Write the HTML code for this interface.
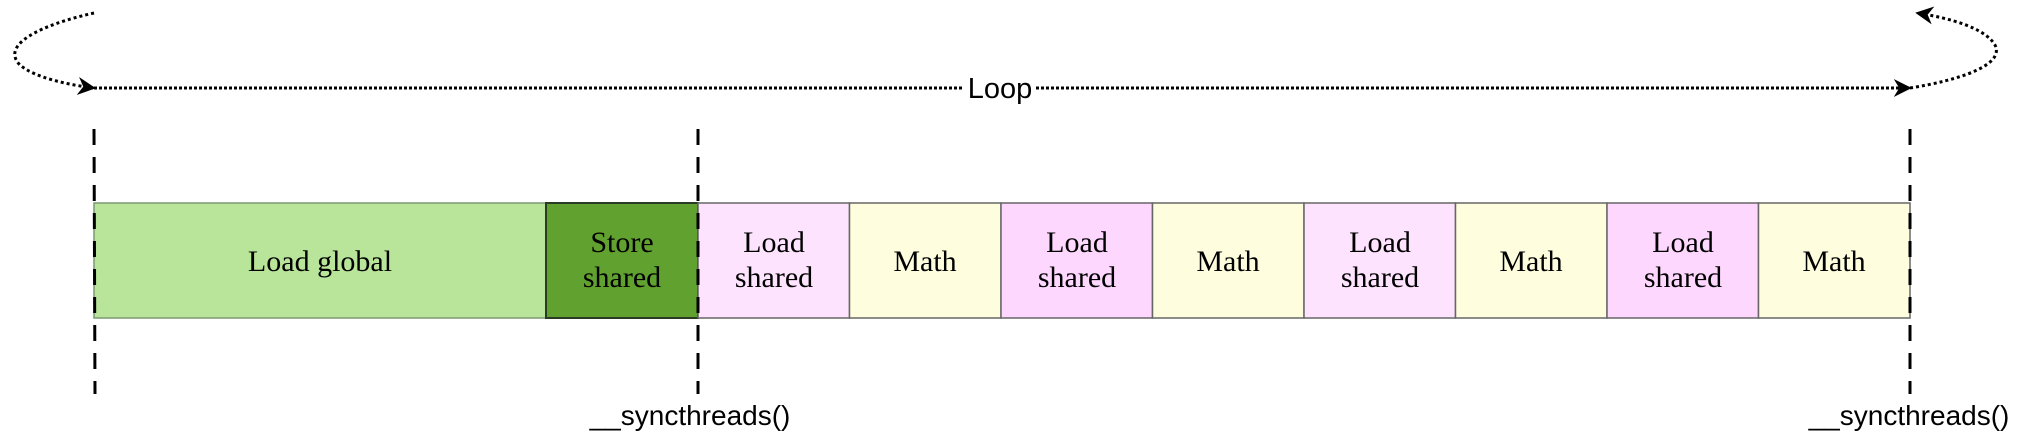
<!DOCTYPE html>
<html><head><meta charset="utf-8"><style>
html,body{margin:0;padding:0;background:#fff;width:2024px;height:442px;overflow:hidden}
</style></head><body>
<svg width="2024" height="442" viewBox="0 0 2024 442" xmlns="http://www.w3.org/2000/svg">
<defs>
<marker id="ah2" viewBox="0 0 10 10" refX="9" refY="5" markerWidth="18" markerHeight="18" orient="auto" markerUnits="userSpaceOnUse">
<path d="M0,0 L10,5 L0,10 L3,5 Z" fill="#000"/></marker>
</defs>
<g>
<path d="M94,13 C40,25 0,45 20,65 C35,78 70,85 94,88" fill="none" stroke="#000" stroke-width="3" stroke-dasharray="3,3" marker-end="url(#ah2)"/>
<line x1="94" y1="88" x2="964" y2="88" stroke="#000" stroke-width="3" stroke-dasharray="3,2"/>
<line x1="1036" y1="88" x2="1910" y2="88" stroke="#000" stroke-width="3" stroke-dasharray="3,2" marker-end="url(#ah2)"/>
<path d="M1910,88 C1960,80 2005,65 1995,45 C1985,28 1950,18 1917,13" fill="none" stroke="#000" stroke-width="3" stroke-dasharray="3,3" marker-end="url(#ah2)"/>
<text x="1000" y="98" font-family="Liberation Sans, sans-serif" font-size="29" text-anchor="middle">Loop</text>
</g>
<g font-family="Liberation Serif, serif" font-size="30" text-anchor="middle">
<g><rect x="94" y="203" width="452" height="115" fill="#b9e59a" stroke="#7a9a70" stroke-width="1.5"/><text x="320" y="271">Load global</text></g>
<g><rect x="546" y="203" width="152" height="115" fill="#60a12f" stroke="#2b3a22" stroke-width="2"/><text x="622" y="252">Store</text><text x="622" y="287">shared</text></g>
<g><rect x="698" y="203" width="151.5" height="115" fill="#fde3fd" stroke="#666" stroke-width="1.5"/><text x="774" y="252">Load</text><text x="774" y="287">shared</text></g>
<g><rect x="849.5" y="203" width="151.5" height="115" fill="#fefede" stroke="#666" stroke-width="1.5"/><text x="925" y="271">Math</text></g>
<g><rect x="1001" y="203" width="151.5" height="115" fill="#fdd7fd" stroke="#666" stroke-width="1.5"/><text x="1077" y="252">Load</text><text x="1077" y="287">shared</text></g>
<g><rect x="1152.5" y="203" width="151.5" height="115" fill="#fefede" stroke="#666" stroke-width="1.5"/><text x="1228" y="271">Math</text></g>
<g><rect x="1304" y="203" width="151.5" height="115" fill="#fde3fd" stroke="#666" stroke-width="1.5"/><text x="1380" y="252">Load</text><text x="1380" y="287">shared</text></g>
<g><rect x="1455.5" y="203" width="151.5" height="115" fill="#fefede" stroke="#666" stroke-width="1.5"/><text x="1531" y="271">Math</text></g>
<g><rect x="1607" y="203" width="151.5" height="115" fill="#fdd7fd" stroke="#666" stroke-width="1.5"/><text x="1683" y="252">Load</text><text x="1683" y="287">shared</text></g>
<g><rect x="1758.5" y="203" width="151.5" height="115" fill="#fefede" stroke="#666" stroke-width="1.5"/><text x="1834" y="271">Math</text></g>
</g>
<g stroke="#000" stroke-width="3" stroke-dasharray="16,12">
<line x1="94" y1="129" x2="95" y2="394"/>
<line x1="698" y1="129" x2="698" y2="394"/>
<line x1="1910" y1="129" x2="1910" y2="394"/>
</g>
<g font-family="Liberation Sans, sans-serif" font-size="28" text-anchor="middle">
<text x="690" y="425">__syncthreads()</text>
<text x="1909" y="425">__syncthreads()</text>
</g>
</svg>
</body></html>
